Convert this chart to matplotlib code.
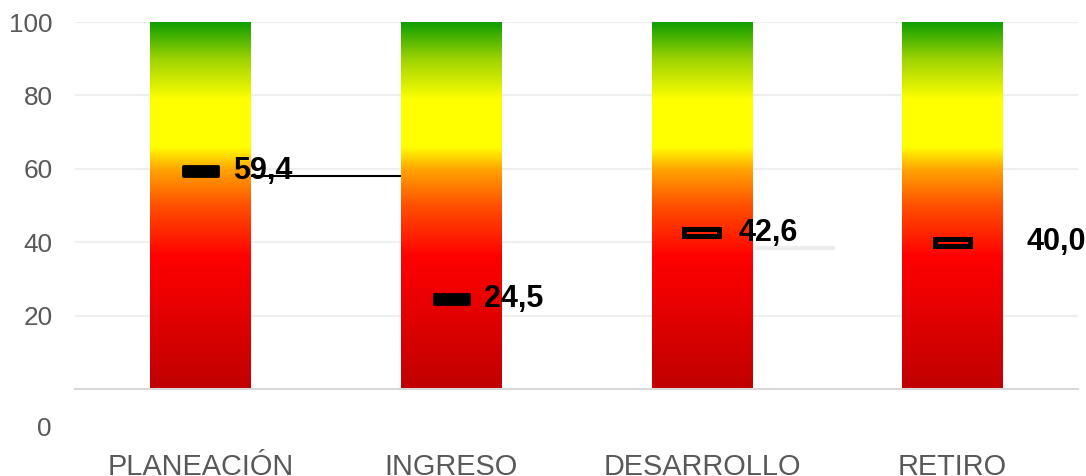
import numpy as np
import matplotlib.pyplot as plt
from matplotlib.colors import LinearSegmentedColormap
from matplotlib.patches import Rectangle
import matplotlib.transforms as mtransforms

# data
categories = ['PLANEACIÓN', 'INGRESO', 'DESARROLLO', 'RETIRO']
values = [59.4, 24.5, 42.6, 40.0]
labels = ['59,4', '24,5', '42,6', '40,0']
hollow = [False, False, True, True]
label_dx = [0.132, 0.132, 0.148, 0.296]
bar_top = 100

# stray segments seen in the picture (x0, x1, y)
black_seg = (0.2, 0.8, 58.1)
grey_seg = (2.21, 2.53, 38.4)

plt.rcParams['font.family'] = ['Liberation Sans', 'DejaVu Sans']

fig = plt.figure(figsize=(10.86, 4.76), dpi=100)
ax = fig.add_axes([75/1086, (476-389)/476, (1078-75)/1086, (389-22)/476])

cmap = LinearSegmentedColormap.from_list('semaforo', [
    (0.00, '#c00000'),
    (0.36, '#ff0000'),
    (0.50, '#ff5000'),
    (0.60, '#ffa500'),
    (0.66, '#ffff00'),
    (0.79, '#ffff00'),
    (0.90, '#9ed400'),
    (1.00, '#109e00'),
])
grad = np.linspace(0, 1, 256).reshape(-1, 1)
width = 0.4

ax.set_xlim(-0.5, len(categories) - 0.5)
ax.set_ylim(0, 100)

# gridlines
for g in [20, 60, 80, 100]:
    ax.axhline(g, color='#efefef', lw=1.5, zorder=0)
ax.hlines(40, -0.5, 2.0, color='#efefef', lw=1.5, zorder=0)
ax.hlines(grey_seg[2], grey_seg[0], grey_seg[1], color='#eeeeee', lw=3, zorder=0)

for i, v in enumerate(values):
    ax.imshow(grad, cmap=cmap, origin='lower', aspect='auto',
              extent=[i - width/2, i + width/2, 0, bar_top], zorder=1)
    mw, mh = 0.16, 3.27
    if hollow[i]:
        ax.add_patch(Rectangle((i - 0.0698, v - 0.95), 0.1396, 1.9, fill=False,
                               edgecolor='black', lw=3.6, zorder=3))
    else:
        ax.add_patch(Rectangle((i - mw/2 + 0.01, v - mh/2 + 0.3), mw - 0.02, mh - 0.6,
                               facecolor='black', edgecolor='black', lw=2,
                               joinstyle='round', zorder=3))
    ax.text(i + label_dx[i], v, labels[i], fontsize=22, fontweight='bold',
            va='center', ha='left', color='black', zorder=4)

ax.hlines(black_seg[2], black_seg[0], black_seg[1], color='black', lw=1.5, zorder=2)

ax.set_xticks(range(len(categories)))
ax.set_xticklabels(categories, fontsize=20.8, color='#595959')
ax.set_yticks([20, 40, 60, 80, 100])
ax.set_yticklabels(['20', '40', '60', '80', '100'], fontsize=18.8, color='#595959')
ax.tick_params(axis='both', length=0)
ax.tick_params(axis='y', pad=16)
ax.tick_params(axis='x', pad=46)

trans = mtransforms.blended_transform_factory(ax.transAxes, ax.transData)
ax.text(-23/1003, -10.8, '0', transform=trans, ha='right', va='center',
        fontsize=18.8, color='#595959')

for s in ['top', 'right', 'left']:
    ax.spines[s].set_visible(False)
ax.spines['bottom'].set_color('#d9d9d9')
ax.spines['bottom'].set_linewidth(1.5)

fig.savefig('out.png', dpi=100)
